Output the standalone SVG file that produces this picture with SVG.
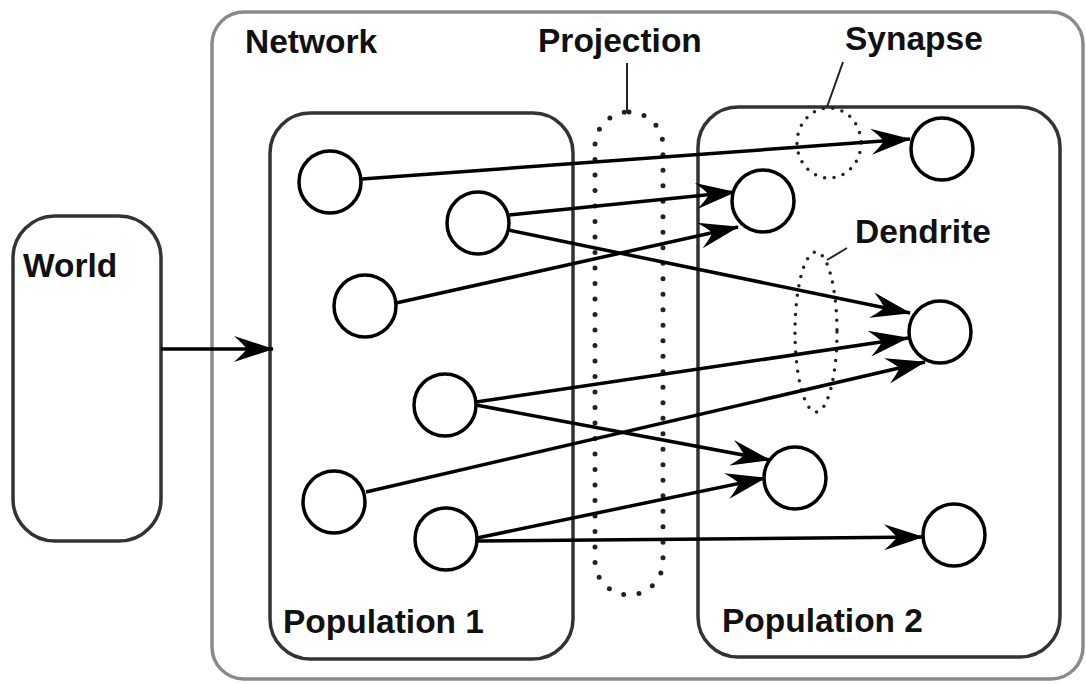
<svg xmlns="http://www.w3.org/2000/svg" width="1086" height="684" viewBox="0 0 1086 684">
  <style>
    .label { font-family: "Liberation Sans", Arial, sans-serif; font-weight: bold; font-size: 33.5px; fill: #111; }
    .box { fill: none; stroke: #333; stroke-width: 3.5; }
    .net { fill: none; stroke: #8a8a8a; stroke-width: 3.5; }
    .neuron { fill: #fff; stroke: #000; stroke-width: 3.5; }
    .edge { fill: none; stroke: #000; stroke-width: 3.5; marker-end: url(#arrow); }
    .lead { fill: none; stroke: #222; stroke-width: 2; }
    .dots { fill: none; stroke: #222; stroke-linecap: round; }
  </style>
  <defs>
    <marker id="arrow" markerUnits="userSpaceOnUse" markerWidth="42" markerHeight="28" viewBox="0 0 42 28" refX="41" refY="14" orient="auto">
      <path d="M42,14 L2,1 Q10,8 15,14 Q10,20 2,27 Z" fill="#000"/>
    </marker>
  </defs>

  <rect width="1086" height="684" fill="#fff"/>

  <!-- outer network container -->
  <g id="network">
    <rect class="net" x="212" y="12" width="871" height="667" rx="32"/>
    <text class="label" x="245" y="53">Network</text>
  </g>

  <g id="world">
    <rect class="box" x="13" y="216" width="148" height="325" rx="42" stroke="#000"/>
    <text class="label" x="23" y="277">World</text>
  </g>

  <g id="population1">
    <rect class="box" x="270" y="113" width="303" height="546" rx="40"/>
    <text class="label" x="283" y="633">Population 1</text>
  </g>

  <g id="population2">
    <rect class="box" x="698" y="107" width="362" height="550" rx="40"/>
    <text class="label" x="722" y="632">Population 2</text>
  </g>

  <!-- dotted outlines for projection, synapse and dendrite -->
  <g id="projection">
    <rect class="dots" x="595" y="112" width="68" height="483" rx="34" stroke-width="5" stroke-dasharray="0 15.5"/>
    <line class="lead" x1="627" y1="63" x2="627" y2="112"/>
    <text class="label" x="538" y="52">Projection</text>
  </g>

  <g id="synapse">
    <ellipse class="dots" cx="829" cy="143" rx="32" ry="35" stroke-width="3.5" stroke-dasharray="0 9.5"/>
    <line class="lead" x1="843" y1="62" x2="827" y2="107"/>
    <text class="label" x="845" y="50">Synapse</text>
  </g>

  <g id="dendrite">
    <ellipse class="dots" cx="816" cy="332" rx="21" ry="80" stroke-width="3.5" stroke-dasharray="0 9.5"/>
    <line class="lead" x1="827" y1="260" x2="847" y2="248"/>
    <text class="label" x="855" y="243">Dendrite</text>
  </g>

  <!-- connections -->
  <g id="connectors">
    <line class="edge" x1="161" y1="349" x2="273" y2="349"/>
    <line class="edge" x1="362" y1="179" x2="910" y2="139"/>
    <line class="edge" x1="509" y1="215" x2="735" y2="192"/>
    <line class="edge" x1="508" y1="230" x2="910" y2="313"/>
    <line class="edge" x1="396" y1="303" x2="738" y2="227"/>
    <line class="edge" x1="476" y1="402" x2="908" y2="338"/>
    <line class="edge" x1="476" y1="405" x2="770" y2="460"/>
    <line class="edge" x1="366" y1="492" x2="925" y2="362"/>
    <line class="edge" x1="477" y1="538" x2="765" y2="478"/>
    <line class="edge" x1="477" y1="541" x2="923" y2="537"/>
  </g>

  <!-- neurons -->
  <g id="neurons-pop1">
    <circle id="n1" class="neuron" cx="330" cy="182" r="31"/>
    <circle id="n2" class="neuron" cx="478" cy="223" r="31"/>
    <circle id="n3" class="neuron" cx="365" cy="306" r="31"/>
    <circle id="n4" class="neuron" cx="445" cy="405" r="31"/>
    <circle id="n5" class="neuron" cx="334" cy="502" r="31"/>
    <circle id="n6" class="neuron" cx="446" cy="539" r="31"/>
  </g>
  <g id="neurons-pop2">
    <circle id="m1" class="neuron" cx="763" cy="201" r="31"/>
    <circle id="m2" class="neuron" cx="942" cy="149" r="31"/>
    <circle id="m3" class="neuron" cx="940" cy="332" r="31"/>
    <circle id="m4" class="neuron" cx="795" cy="478" r="31"/>
    <circle id="m5" class="neuron" cx="954" cy="535" r="31"/>
  </g>
</svg>
